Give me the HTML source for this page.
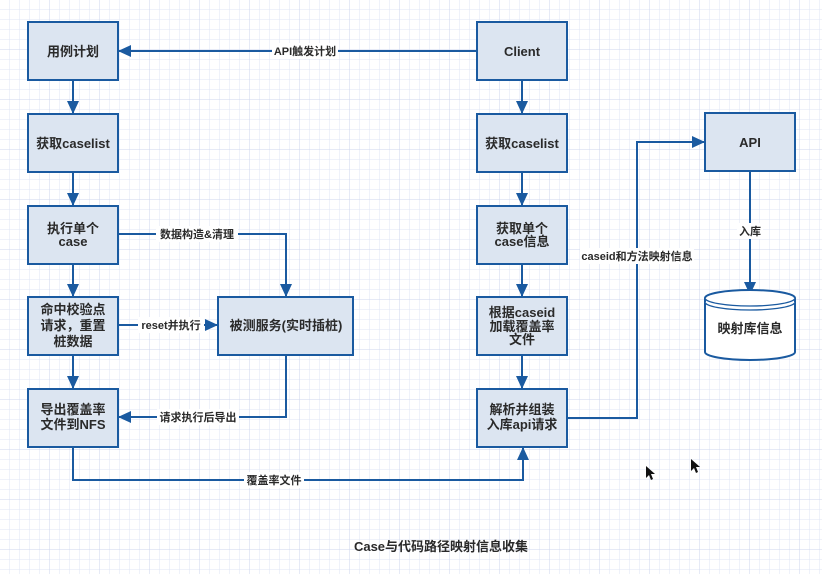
<!DOCTYPE html>
<html><head><meta charset="utf-8"><style>
html,body{margin:0;padding:0;background:#fff}
svg{display:block}
text{font-family:"Liberation Sans","Noto Sans CJK SC",sans-serif;fill:#2a2a2a}
</style></head><body>
<svg width="822" height="574" viewBox="0 0 822 574" xmlns="http://www.w3.org/2000/svg">
<defs>
<pattern id="g" width="10" height="10" patternUnits="userSpaceOnUse"><path d="M10 0V10M0 10H10" fill="none" stroke="#dfe5f4" stroke-width="1"/></pattern>
<pattern id="G" width="50" height="50" patternUnits="userSpaceOnUse"><rect width="50" height="50" fill="url(#g)"/><path d="M50 0V50M0 50H50" fill="none" stroke="#cdd6ee" stroke-width="1"/></pattern>
<marker id="a" markerWidth="13" markerHeight="12" refX="12" refY="6" orient="auto" markerUnits="userSpaceOnUse"><path d="M0 0L13 6L0 12Z" fill="#1a5aa0"/></marker>
</defs>
<rect width="822" height="574" fill="url(#G)"/>
<g fill="none" stroke="#1a5aa0" stroke-width="2">
<line x1="477" y1="51" x2="119" y2="51" marker-end="url(#a)"/>
<line x1="73" y1="80" x2="73" y2="113" marker-end="url(#a)"/>
<line x1="73" y1="172" x2="73" y2="205" marker-end="url(#a)"/>
<line x1="73" y1="264" x2="73" y2="296" marker-end="url(#a)"/>
<line x1="73" y1="355" x2="73" y2="388" marker-end="url(#a)"/>
<polyline points="118,234 286,234 286,296" marker-end="url(#a)"/>
<line x1="118" y1="325" x2="217" y2="325" marker-end="url(#a)"/>
<polyline points="286,355 286,417 119,417" marker-end="url(#a)"/>
<polyline points="73,447 73,480 523,480 523,448" marker-end="url(#a)"/>
<line x1="522" y1="80" x2="522" y2="113" marker-end="url(#a)"/>
<line x1="522" y1="172" x2="522" y2="205" marker-end="url(#a)"/>
<line x1="522" y1="264" x2="522" y2="296" marker-end="url(#a)"/>
<line x1="522" y1="355" x2="522" y2="388" marker-end="url(#a)"/>
<polyline points="567,418 637,418 637,142 704,142" marker-end="url(#a)"/>
<line x1="750" y1="171" x2="750" y2="294" marker-end="url(#a)"/>
</g>
<g fill="#dce5f1" stroke="#1a5aa0" stroke-width="2">
<rect x="28" y="22" width="90" height="58"/>
<rect x="28" y="114" width="90" height="58"/>
<rect x="28" y="206" width="90" height="58"/>
<rect x="28" y="297" width="90" height="58"/>
<rect x="28" y="389" width="90" height="58"/>
<rect x="218" y="297" width="135" height="58"/>
<rect x="477" y="22" width="90" height="58"/>
<rect x="477" y="114" width="90" height="58"/>
<rect x="477" y="206" width="90" height="58"/>
<rect x="477" y="297" width="90" height="58"/>
<rect x="477" y="389" width="90" height="58"/>
<rect x="705" y="113" width="90" height="58"/>
</g>
<g fill="#fff" stroke="#1a5aa0" stroke-width="2">
<path d="M705 298 V352 A45 8 0 0 0 795 352 V298 A45 8 0 0 0 705 298Z"/>
<path d="M705 298 A45 8 0 0 0 795 298 M705 302 A45 8 0 0 0 795 302" stroke-width="1.3"/>
</g>
<g fill="#fff">
<rect x="272" y="43" width="66" height="16"/>
<rect x="156" y="226" width="82" height="16"/>
<rect x="138" y="317" width="66" height="16"/>
<rect x="157" y="409" width="82" height="16"/>
<rect x="244" y="472" width="60" height="16"/>
<rect x="580" y="248" width="114" height="16"/>
<rect x="737" y="223" width="26" height="16"/>
</g>
<g font-size="11" text-anchor="middle" font-weight="bold">
<text x="305" y="55">API触发计划</text>
<text x="197" y="238">数据构造&amp;清理</text>
<text x="171" y="329">reset并执行</text>
<text x="198" y="421">请求执行后导出</text>
<text x="274" y="484">覆盖率文件</text>
<text x="637" y="260">caseid和方法映射信息</text>
<text x="750" y="235">入库</text>
</g>
<g font-size="13" text-anchor="middle" font-weight="bold">
<text x="73" y="56">用例计划</text>
<text x="73" y="148">获取caselist</text>
<text x="73" y="233">执行单个</text><text x="73" y="246">case</text>
<text x="73" y="314">命中校验点</text><text x="73" y="330">请求，重置</text><text x="73" y="346">桩数据</text>
<text x="73" y="414">导出覆盖率</text><text x="73" y="429">文件到NFS</text>
<text x="286" y="330">被测服务(实时插桩)</text>
<text x="522" y="56">Client</text>
<text x="522" y="148">获取caselist</text>
<text x="522" y="233">获取单个</text><text x="522" y="246">case信息</text>
<text x="522" y="317">根据caseid</text><text x="522" y="331">加载覆盖率</text><text x="522" y="344">文件</text>
<text x="522" y="414">解析并组装</text><text x="522" y="429">入库api请求</text>
<text x="750" y="147">API</text>
<text x="750" y="333">映射库信息</text>
</g>
<text x="441" y="551" font-size="13" font-weight="bold" text-anchor="middle">Case与代码路径映射信息收集</text>
<path d="M646 466 v12 l3 -3 l2 5 l2 -1 l-2 -5 h4 z" fill="#111"/>
<path d="M691 459 v12 l3 -3 l2 5 l2 -1 l-2 -5 h4 z" fill="#111"/>
</svg>
</body></html>
